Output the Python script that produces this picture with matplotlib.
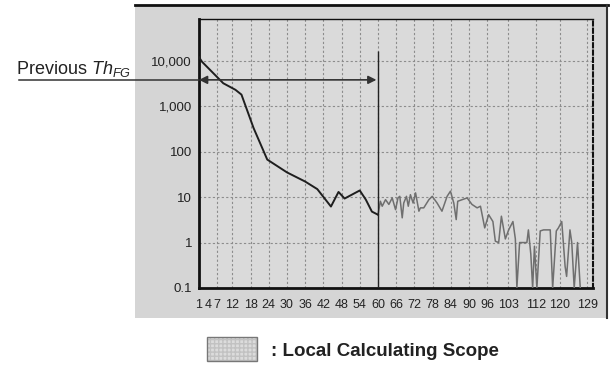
import matplotlib
matplotlib.use('Agg')
import matplotlib.pyplot as plt
import matplotlib.transforms as mtransforms
from matplotlib.patches import Rectangle
from matplotlib.lines import Line2D

plt.rcParams['font.family'] = ['Liberation Sans', 'DejaVu Sans']
plt.rcParams['mathtext.fontset'] = 'custom'
plt.rcParams['mathtext.rm'] = 'Liberation Sans'
plt.rcParams['mathtext.it'] = 'Liberation Sans:italic'

# local calculating scope (dark part of the curve)
scope_x = [1, 2, 9, 13, 15, 19, 23.5, 30, 36, 40, 44.5, 47, 49, 54, 56, 58, 60]
scope_y = [12000, 9500, 3200, 2300, 1800, 330, 67, 35, 22, 15, 6.2, 13, 9.3, 14, 8.8, 4.8, 4.1]

# rest of the histogram (gray part)
tail_x = [60, 60.8, 61.4, 62.5, 63.6, 64.7, 65.8, 66.6, 67.2, 68, 68.5, 69.4, 70, 70.7,
          71.6, 72.4, 73.5, 74, 75.1, 76.8, 77.9, 79.5, 81.1, 82.8, 83.9, 85, 85.8, 86.3,
          87.8, 89.4, 91, 92.7, 93.8, 95.2, 96.5, 97.9, 98.7, 99.8, 100.7, 102, 103.1,
          104.5, 105.3, 105.8, 106.7, 109.1, 109.6, 110.4, 111, 111.6, 112.4, 113.5,
          114.6, 116.8, 117.6, 118.8, 119.5, 120.6, 121.7, 122.2, 123.3, 123.9, 124.7,
          125.8, 126.7]
tail_y = [4.1, 8.1, 6.3, 8.8, 6.9, 9.6, 5.3, 9.6, 10.4, 3.5, 7.4, 10.4, 6.3, 11.3,
          7.4, 12.4, 4.9, 5.8, 5.8, 8.8, 10.4, 7.4, 4.9, 10.4, 13.5, 7.4, 3.2, 8.1,
          8.8, 9.6, 6.9, 5.8, 6.3, 2.1, 4.1, 2.9, 1.07, 1.0, 3.8, 1.2, 1.9,
          2.9, 1.2, 0.1, 1.0, 1.0, 1.9, 0.55, 0.1, 0.83, 0.1, 1.8,
          1.9, 1.9, 0.1, 1.8, 2.1, 2.9, 0.3, 0.18, 1.9, 1.0, 0.1,
          1.0, 0.1]

x_ticks = [1, 4, 7, 12, 18, 24, 30, 36, 42, 48, 54, 60, 66, 72, 78, 84, 90, 96, 103, 112, 120, 129]
y_ticks = [0.1, 1, 10, 100, 1000, 10000]
y_labels = ['0.1', '1', '10', '100', '1,000', '10,000']

scope_end = 60
arrow_y = 3800

W, H = 613, 365
fig = plt.figure(figsize=(W / 100, H / 100), dpi=100)

# gray chart panel
fig.add_artist(Rectangle((135 / W, 47 / H), 472 / W, 313 / H, transform=fig.transFigure,
                         facecolor='#d5d5d5', edgecolor='none', zorder=0))
fig.add_artist(Line2D([135 / W, 608 / W], [360 / H, 360 / H], transform=fig.transFigure,
                      color='#111111', lw=2))
fig.add_artist(Line2D([607 / W, 607 / W], [47 / H, 360 / H], transform=fig.transFigure,
                      color='#333333', lw=1.5))

ax = fig.add_axes([199 / W, 77 / H, 394 / W, 269 / H])
ax.set_facecolor('#dadada')
ax.set_yscale('log')
ax.set_xlim(1, 130.9)
ax.set_ylim(0.1, 83000)

ax.set_xticks(x_ticks)
ax.set_xticklabels([str(t) for t in x_ticks])
ax.set_yticks(y_ticks)
ax.set_yticklabels(y_labels)
ax.yaxis.set_minor_locator(matplotlib.ticker.NullLocator())
ax.tick_params(axis='x', length=0, pad=8, labelsize=9, labelcolor='#222222')
ax.tick_params(axis='y', length=0, pad=5, labelsize=9.5, labelcolor='#222222')

# dashed grid
for t in x_ticks[2:]:
    ax.axvline(t, color='#8c8c8c', lw=0.8, ls=(0, (2, 2)), zorder=1)
for t in y_ticks[1:]:
    ax.axhline(t, color='#8c8c8c', lw=0.8, ls=(0, (2, 2)), zorder=1)

ax.spines['left'].set_linewidth(2)
ax.spines['bottom'].set_linewidth(2)
ax.spines['top'].set_linewidth(1)
ax.spines['right'].set_linewidth(1.5)
ax.spines['right'].set_linestyle((0, (2, 1.5)))
for s in ax.spines.values():
    s.set_color('#111111')

ax.plot(tail_x, tail_y, color='#6f6f6f', lw=1.1, zorder=3)
ax.plot(scope_x, scope_y, color='#1e1e1e', lw=1.4, zorder=4)

# scope boundary and arrow
ax.vlines(scope_end, 0.1, 16000, color='#222222', lw=1, zorder=5)
ax.annotate('', xy=(1, arrow_y), xytext=(scope_end - 0.5, arrow_y),
            arrowprops=dict(arrowstyle='<|-|>', color='#333333', lw=1.2,
                            mutation_scale=12, shrinkA=0, shrinkB=0), zorder=6)

blend = mtransforms.blended_transform_factory(fig.transFigure, ax.transData)
fig.add_artist(Line2D([19 / W, 199 / W], [arrow_y, arrow_y], transform=blend,
                      color='#333333', lw=1.1))
fig.text(16 / W, 4000, r'Previous $\mathit{Th}_{\mathit{FG}}$', transform=blend,
         fontsize=13, color='#222222', va='bottom', ha='left')

# legend swatch and label
fig.add_artist(Rectangle((207 / W, 4 / H), 50 / W, 24 / H, transform=fig.transFigure,
                         facecolor='#dcdcdc', edgecolor='#c2c2c2', hatch='++++', lw=0))
fig.add_artist(Rectangle((207 / W, 4 / H), 50 / W, 24 / H, transform=fig.transFigure,
                         facecolor='none', edgecolor='#777777', lw=1))
fig.text(271 / W, 14 / H, ': Local Calculating Scope', fontsize=13.5, fontweight='bold',
         color='#222222', va='center', ha='left')

fig.savefig('out.png', dpi=100)
